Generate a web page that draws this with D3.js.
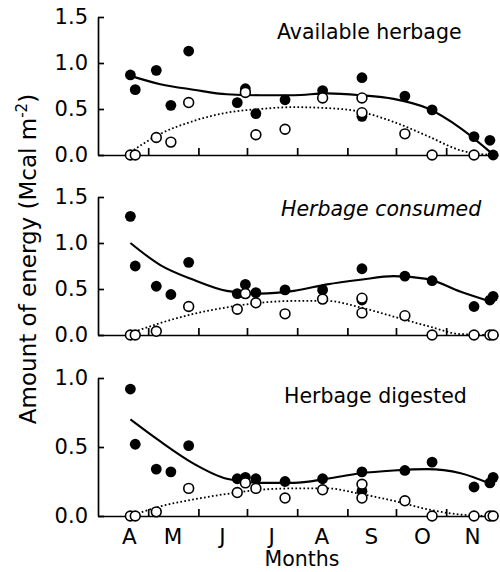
<!DOCTYPE html>
<html>
<head>
<meta charset="utf-8">
<script src="https://cdnjs.cloudflare.com/ajax/libs/d3/7.8.5/d3.min.js"></script>
<style>
  body { margin: 0; background: #fff; }
  svg { display: block; font-family: "DejaVu Sans", sans-serif; }
  .axis path, .axis line { stroke: #000; stroke-width: 1.7; }
  .axis text { font-size: 21px; fill: #000; font-family: "DejaVu Sans", sans-serif; }
  .months text { font-size: 21.5px; }
</style>
</head>
<body>
<div id="chart"></div>
<script>
// sampling dates as day of year (two samples on day 253)
var sampleDays = [110, 113, 126, 135, 146, 176, 181, 187.5, 205.5, 228.7, 253, 253, 279.5, 296.3, 322.2, 332, 334];

// filled circles / open circles, Mcal m-2 (null = no point)
var availFilled = [0.87, 0.71, 0.92, 0.54, 1.13, 0.57, 0.72, 0.45, 0.60, 0.70, 0.84, 0.42, 0.64, 0.49, 0.20, 0.16, 0.00];
var availOpen = [0, 0, 0.19, 0.14, 0.57, null, 0.68, 0.22, 0.28, 0.62, 0.62, 0.46, 0.23, 0, 0, null, null];
var consFilled = [1.29, 0.75, 0.53, 0.44, 0.79, 0.45, 0.55, 0.46, 0.49, 0.49, 0.72, 0.38, 0.64, 0.59, 0.31, 0.38, 0.42];
var consOpen = [0, 0, 0.04, null, 0.31, 0.28, 0.45, 0.35, 0.23, 0.39, 0.40, 0.24, 0.21, 0, 0, 0, 0];
var digFilled = [0.92, 0.52, 0.34, 0.32, 0.51, 0.27, 0.28, 0.27, 0.25, 0.27, 0.32, 0.18, 0.33, 0.39, 0.21, 0.24, 0.28];
var digOpen = [0, 0, 0.03, null, 0.20, 0.17, 0.24, 0.20, 0.13, 0.19, 0.23, 0.13, 0.11, 0, 0, 0, 0];

// fitted curves
var curveDays = [110, 128.5, 149, 169.5, 190, 211, 231.5, 252, 272.5, 293, 314, 333];
var availSolid = [0.86, 0.77, 0.71, 0.66, 0.65, 0.65, 0.67, 0.65, 0.61, 0.51, 0.29, 0.02];
var availDotted = [0.03, 0.23, 0.37, 0.46, 0.50, 0.52, 0.51, 0.47, 0.36, 0.21, 0.05, 0];
var consSolid = [1.0, 0.76, 0.60, 0.48, 0.45, 0.48, 0.55, 0.60, 0.64, 0.61, 0.47, 0.36];
var consDotted = [0.02, 0.13, 0.23, 0.30, 0.35, 0.37, 0.37, 0.30, 0.20, 0.10, 0.01, 0];
var digSolid = [0.70, 0.54, 0.38, 0.27, 0.24, 0.24, 0.27, 0.31, 0.33, 0.34, 0.31, 0.23];
var digDotted = [0.0, 0.07, 0.12, 0.16, 0.19, 0.20, 0.20, 0.16, 0.11, 0.05, 0.01, 0];

var panelTitles = ["Available herbage", "Herbage consumed", "Herbage digested"];
var panelYTicks = [[0, 0.5, 1.0, 1.5], [0, 0.5, 1.0, 1.5], [0, 0.5, 1.0]];

// month boundaries (ticks) and mid-month labels
var monthTicks = [121, 152, 182, 213, 244, 274, 305];
var monthLabelDays = [109, 136, 166.5, 197, 228, 258.5, 290, 321];
var monthLabels = ["A", "M", "J", "J", "A", "S", "O", "N"];

var width = 500, height = 572;

var panels = [
  {title: panelTitles[0], ticks: panelYTicks[0], filled: availFilled, open: availOpen, solid: availSolid, dotted: availDotted,
   top: 17, titleX: 277, titleY: 39, italic: false},
  {title: panelTitles[1], ticks: panelYTicks[1], filled: consFilled, open: consOpen, solid: consSolid, dotted: consDotted,
   top: 197, titleX: 281, titleY: 216, italic: true},
  {title: panelTitles[2], ticks: panelYTicks[2], filled: digFilled, open: digOpen, solid: digSolid, dotted: digDotted,
   top: 378, titleX: 284, titleY: 403, italic: false}
];
var panelHeight = 138;

var svg = d3
  .select("#chart")
  .append("svg")
  .attr("width", width)
  .attr("height", height);

var x = d3.scaleLinear().domain([90, 337]).range([98, 498]);

panels.forEach(function(p, pi) {
  var yMax = p.ticks[p.ticks.length - 1];
  var y = d3.scaleLinear().domain([0, yMax]).range([p.top + panelHeight, p.top]);
  var g = svg.append("g").attr("class", "panel");

  // axes
  g.append("g")
    .attr("class", "axis")
    .attr("transform", "translate(0," + y(0) + ")")
    .call(d3.axisBottom(x).tickValues(monthTicks).tickSizeInner(-7).tickSizeOuter(0).tickFormat(""));

  g.append("g")
    .attr("class", "axis")
    .attr("transform", "translate(" + x(90) + ",0)")
    .call(d3.axisLeft(y).tickValues(p.ticks).tickSizeInner(-6).tickSizeOuter(0).tickPadding(10).tickFormat(d3.format(".1f")));

  // curves
  var line = function(vals) {
    return d3.line()
      .x(function(d, i) { return x(curveDays[i]); })
      .y(function(d) { return y(d); })
      .curve(d3.curveMonotoneX)(vals);
  };

  g.append("path")
    .attr("d", line(p.dotted))
    .attr("fill", "none")
    .attr("stroke", "#000")
    .attr("stroke-width", 1.8)
    .attr("stroke-dasharray", "1.7,2.3");

  g.append("path")
    .attr("d", line(p.solid))
    .attr("fill", "none")
    .attr("stroke", "#000")
    .attr("stroke-width", 2.1);

  // points
  var pts = function(vals) {
    return sampleDays
      .map(function(d, i) { return {day: d, v: vals[i]}; })
      .filter(function(d) { return d.v !== null; });
  };

  g.selectAll(".filled")
    .data(pts(p.filled))
    .enter()
    .append("circle")
    .attr("class", "filled")
    .attr("cx", function(d) { return x(d.day); })
    .attr("cy", function(d) { return y(d.v); })
    .attr("r", 5.4)
    .attr("fill", "#000");

  g.selectAll(".open")
    .data(pts(p.open))
    .enter()
    .append("circle")
    .attr("class", "open")
    .attr("cx", function(d) { return x(d.day); })
    .attr("cy", function(d) { return y(d.v); })
    .attr("r", 4.9)
    .attr("fill", "#fff")
    .attr("stroke", "#000")
    .attr("stroke-width", 1.6);

  // panel title
  g.append("text")
    .attr("x", p.titleX)
    .attr("y", p.titleY)
    .attr("font-size", 20.5)
    .attr("font-style", p.italic ? "italic" : "normal")
    .text(p.title);

  // month labels on the bottom panel only
  if (pi === panels.length - 1) {
    g.append("g")
      .attr("class", "axis months")
      .attr("transform", "translate(0," + y(0) + ")")
      .call(d3.axisBottom(x).tickValues(monthLabelDays).tickSize(0).tickPadding(13)
        .tickFormat(function(d, i) { return monthLabels[i]; }))
      .call(function(a) { a.select(".domain").remove(); });
  }
});

// axis titles
svg.append("text")
  .attr("x", 302)
  .attr("y", 566)
  .attr("text-anchor", "middle")
  .attr("font-size", 20.5)
  .text("Months");

var ylab = svg.append("text")
  .attr("transform", "translate(36,259) rotate(-90)")
  .attr("text-anchor", "middle")
  .attr("font-size", 23);
ylab.append("tspan").text("Amount of energy (Mcal m");
ylab.append("tspan").attr("font-size", 15).attr("dy", -9).text("-2");
ylab.append("tspan").attr("dy", 9).text(")");
</script>
</body>
</html>
